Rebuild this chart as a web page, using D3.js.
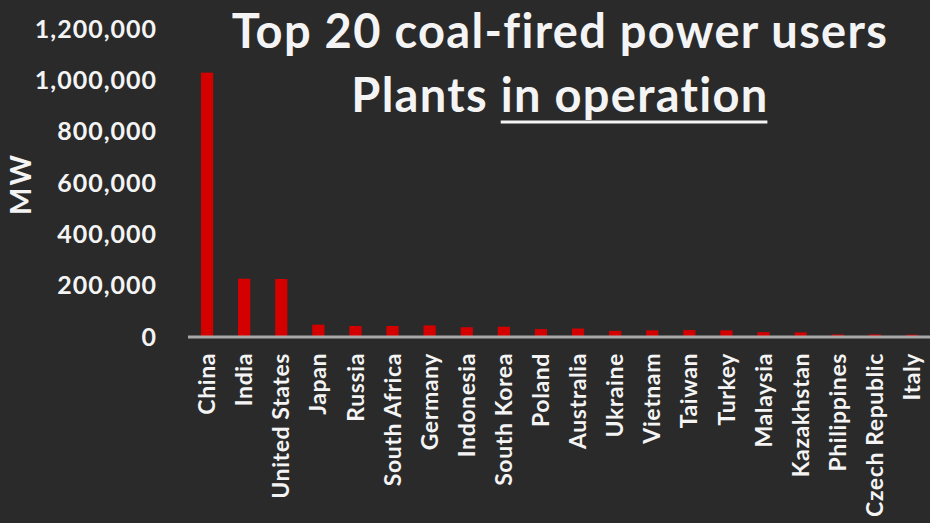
<!DOCTYPE html>
<html>
<head>
<meta charset="utf-8">
<script src="https://cdn.jsdelivr.net/npm/d3@7"></script>
<style>
  html, body { margin: 0; padding: 0; background: #2a2a2a; }
  svg { display: block; }
  text { font-family: Lato, "Open Sans", sans-serif; font-weight: 700; fill: #f4f4f4;
         font-variant-ligatures: none; }
</style>
</head>
<body>
<svg id="chart" width="930" height="523"></svg>
<script>
// Installed coal-fired capacity, plants in operation (MW)
const countries = ["China", "India", "United States", "Japan", "Russia", "South Africa",
  "Germany", "Indonesia", "South Korea", "Poland", "Australia", "Ukraine", "Vietnam",
  "Taiwan", "Turkey", "Malaysia", "Kazakhstan", "Philippines", "Czech Republic", "Italy"];
const capacityMW = [1030000, 227000, 226000, 48000, 43000, 43000, 45000, 38000, 40000,
  31000, 33000, 24000, 26000, 27000, 26000, 19000, 18000, 10000, 10000, 9000];
const yTicks = [0, 200000, 400000, 600000, 800000, 1000000, 1200000];
const titleLines = ["Top 20 coal-fired power users", "Plants ", "in operation"];
const yAxisTitle = "MW";

const svg = d3.select("#chart");
const W = 930, H = 523;
svg.append("rect").attr("width", W).attr("height", H).attr("fill", "#2a2a2a");

const x = d3.scaleBand()
  .domain(countries)
  .range([188.5, 930.5])
  .paddingInner(0.67)
  .paddingOuter(0.335);

const y = d3.scaleLinear()
  .domain([0, 1200000])
  .range([337, 29]);

// y tick labels
const fmt = d3.format(",");
const yAxis = d3.axisLeft(y).tickValues(yTicks).tickFormat(fmt).tickSize(0).tickPadding(0);
const gy = svg.append("g").attr("transform", "translate(157,0)").call(yAxis);
gy.select(".domain").remove();
gy.selectAll("text")
  .attr("fill", "#f4f4f4")
  .style("font-family", "Lato, 'Open Sans', sans-serif")
  .style("font-weight", 700)
  .style("font-size", "25px")
  .style("letter-spacing", "1px");

// bars
svg.append("g").selectAll("rect")
  .data(countries.map((c, i) => ({ c, v: capacityMW[i] })))
  .join("rect")
  .attr("x", d => x(d.c))
  .attr("width", x.bandwidth())
  .attr("y", d => y(d.v))
  .attr("height", d => y(0) - y(d.v))
  .attr("fill", "#d40000");

// category axis
const xAxis = d3.axisBottom(x).tickSize(0).tickPadding(0);
const gx = svg.append("g").attr("transform", `translate(0,${y(0)})`).call(xAxis);
gx.select(".domain").attr("stroke", "#a8a8a8").attr("stroke-width", 3)
  .attr("d", `M188,0H930`);
gx.selectAll("text")
  .attr("fill", "#f4f4f4")
  .style("font-family", "Lato, 'Open Sans', sans-serif")
  .style("font-weight", 700)
  .style("font-size", "23px")
  .style("letter-spacing", "0.6px")
  .attr("transform", "rotate(-90)")
  .attr("text-anchor", "end")
  .attr("x", -16)
  .attr("y", 0)
  .attr("dy", "0.35em");

// y axis title
svg.append("text")
  .attr("transform", "translate(21,184) rotate(-90)")
  .attr("text-anchor", "middle")
  .attr("dy", "0.35em")
  .style("font-size", "29px")
  .style("letter-spacing", "2px")
  .text(yAxisTitle);

// title
svg.append("text")
  .attr("x", 560).attr("y", 48)
  .attr("text-anchor", "middle")
  .style("font-size", "47px")
  .style("letter-spacing", "1.3px")
  .text(titleLines[0]);

const t2 = svg.append("text")
  .attr("x", 560).attr("y", 112)
  .attr("text-anchor", "middle")
  .style("font-size", "47px")
  .style("letter-spacing", "1.3px");
t2.append("tspan").text(titleLines[1]);
t2.append("tspan").text(titleLines[2]);

// underline beneath "in operation"
const full = t2.node().getComputedTextLength();
const first = t2.node().getSubStringLength(0, titleLines[1].length);
svg.append("line")
  .attr("x1", 560 - full / 2 + first).attr("x2", 560 + full / 2 - 1.3)
  .attr("y1", 122).attr("y2", 122)
  .attr("stroke", "#f4f4f4").attr("stroke-width", 3);
</script>
</body>
</html>
